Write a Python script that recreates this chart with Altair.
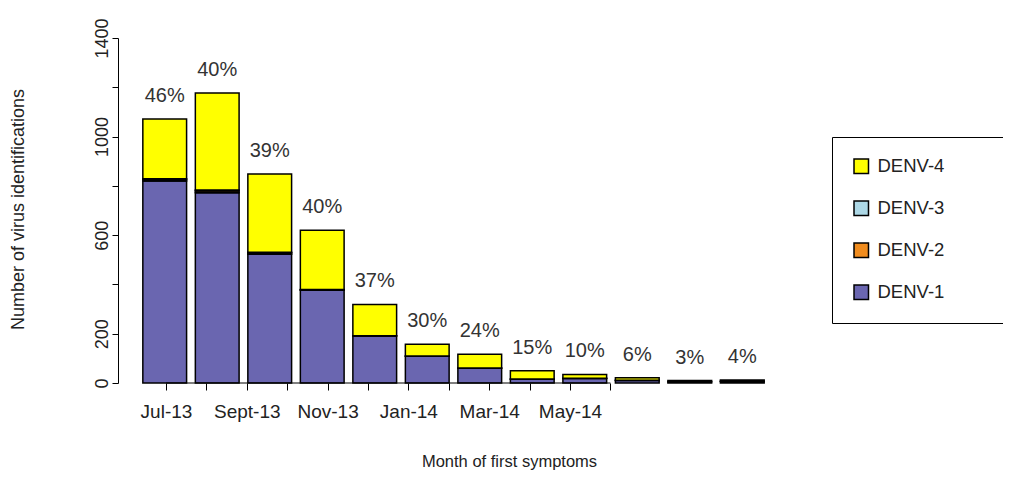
import altair as alt
import pandas as pd

months = ["Jul-13", "Aug-13", "Sept-13", "Oct-13", "Nov-13", "Dec-13",
          "Jan-14", "Feb-14", "Mar-14", "Apr-14", "May-14", "Jun-14"]
shown_months = ["Jul-13", "Sept-13", "Nov-13", "Jan-14", "Mar-14", "May-14"]
denv1 = [820, 772, 522, 376, 191, 109, 60, 15, 18, 10, 5, 6]
denv2 = [6, 7, 6, 2, 1, 1, 1, 1, 1, 1, 0, 1]
denv3 = [3, 4, 3, 1, 0, 0, 0, 0, 0, 0, 0, 0]
denv4 = [242, 394, 317, 241, 127, 47, 56, 34, 16, 10, 5, 5]
pct_labels = ["46%", "40%", "39%", "40%", "37%", "30%", "24%", "15%", "10%", "6%", "3%", "4%"]

serotypes = ["DENV-1", "DENV-2", "DENV-3", "DENV-4"]
series = [denv1, denv2, denv3, denv4]
legend_order = ["DENV-4", "DENV-3", "DENV-2", "DENV-1"]
legend_colors = ["#FFFF00", "#ADD8E6", "#F08C1E", "#6A66B0"]

rows = []
for k, (name, vals) in enumerate(zip(serotypes, series)):
    for m, v in zip(months, vals):
        rows.append({"month": m, "serotype": name, "value": v, "stack": k})
df = pd.DataFrame(rows)

totals = [sum(s[i] for s in series) for i in range(len(months))]
lab_df = pd.DataFrame({"month": months, "total": totals, "label": pct_labels})
tick_idx = list(range(1, len(months) + 1))
axis_df = pd.DataFrame({"start": [tick_idx[0]], "end": [tick_idx[-1]], "zero": [0]})

FONT = "Liberation Sans"
xscale = alt.Scale(type="band", domain=months, paddingInner=0.1667, paddingOuter=0.473)
tick_scale = alt.Scale(domain=[-0.188, 16.421], nice=False, zero=False)
yscale = alt.Scale(domain=[0, 1400], nice=False)

months_js = "[" + ",".join("'" + s + "'" for s in months) + "]"
shown_js = "[" + ",".join("'" + s + "'" for s in shown_months) + "]"
x_label_expr = ("indexof(" + shown_js + ", " + months_js + "[datum.value - 1]) >= 0 ? "
                + months_js + "[datum.value - 1] : ''")
# invisible padding so the legend frame runs past the right edge of the page
legend_pad = "\u00a0" * 8 + "\u2800"

bars = alt.Chart(df).mark_bar(stroke="black", strokeWidth=1.5).encode(
    x=alt.X("month:N", scale=xscale, sort=months, axis=None),
    y=alt.Y("value:Q", stack="zero", scale=yscale, axis=alt.Axis(
        title="Number of virus identifications", values=list(range(0, 1401, 200)),
        labelExpr="indexof([400, 800, 1200], datum.value) >= 0 ? '' : format(datum.value, 'd')",
        domain=True, domainColor="black", domainWidth=1,
        tickColor="black", tickSize=6, tickWidth=1,
        labelAngle=270, labelAlign="center", labelBaseline="bottom",
        labelFontSize=18, labelFont=FONT, labelColor="#222", labelPadding=1,
        titleAngle=270, titleFontSize=18, titleFont=FONT, titleFontWeight="normal",
        titleColor="#222", titleX=-100, titleY=171, titleBaseline="middle",
        titleAlign="center", grid=False)),
    color=alt.Color("serotype:N", scale=alt.Scale(domain=legend_order, range=legend_colors),
                    legend=alt.Legend(title=None, orient="none", legendX=714, legendY=99,
                                      strokeColor="black", fillColor="white", padding=20,
                                      symbolType="square", symbolSize=210,
                                      symbolStrokeColor="black", symbolStrokeWidth=1.5,
                                      symbolOpacity=1, labelLimit=900,
                                      labelExpr="datum.label + '" + legend_pad + "'",
                                      labelFontSize=18.5, labelFont=FONT, labelColor="#222",
                                      labelOffset=7, rowPadding=21)),
    order=alt.Order("stack:Q", sort="ascending"),
)

labels = alt.Chart(lab_df).mark_text(fontSize=20, font=FONT, color="#333",
                                     baseline="middle", dy=-23).encode(
    x=alt.X("month:N", scale=xscale, sort=months, axis=None),
    y=alt.Y("total:Q", scale=yscale),
    text="label:N",
)

axis_line = alt.Chart(axis_df).mark_rule(color="black", strokeWidth=1).encode(
    x=alt.X("start:Q", scale=tick_scale, axis=alt.Axis(
        title="Month of first symptoms", values=tick_idx, domain=False, grid=False,
        tickColor="black", tickSize=7, tickWidth=1,
        labelExpr=x_label_expr, labelAngle=0, labelFontSize=19, labelFont=FONT,
        labelColor="#222", labelPadding=12, labelBaseline="top", labelAlign="center",
        labelOverlap=False, labelFlush=False,
        titleFontSize=16.5, titleFont=FONT, titleFontWeight="normal", titleColor="#222",
        titleX=391, titleY=78, titleBaseline="middle", titleAlign="center")),
    x2="end:Q",
    y=alt.Y("zero:Q", scale=yscale),
)

chart = alt.layer(alt.layer(bars, labels), axis_line).resolve_scale(x="independent").properties(
    width=671, height=345,
    autosize=alt.AutoSizeParams(type="none"),
    padding={"left": 110, "top": 30, "right": 214, "bottom": 109},
    background="white",
).configure_view(strokeWidth=0)

chart.save("out.html", embed_options={"renderer": "svg", "actions": False})
